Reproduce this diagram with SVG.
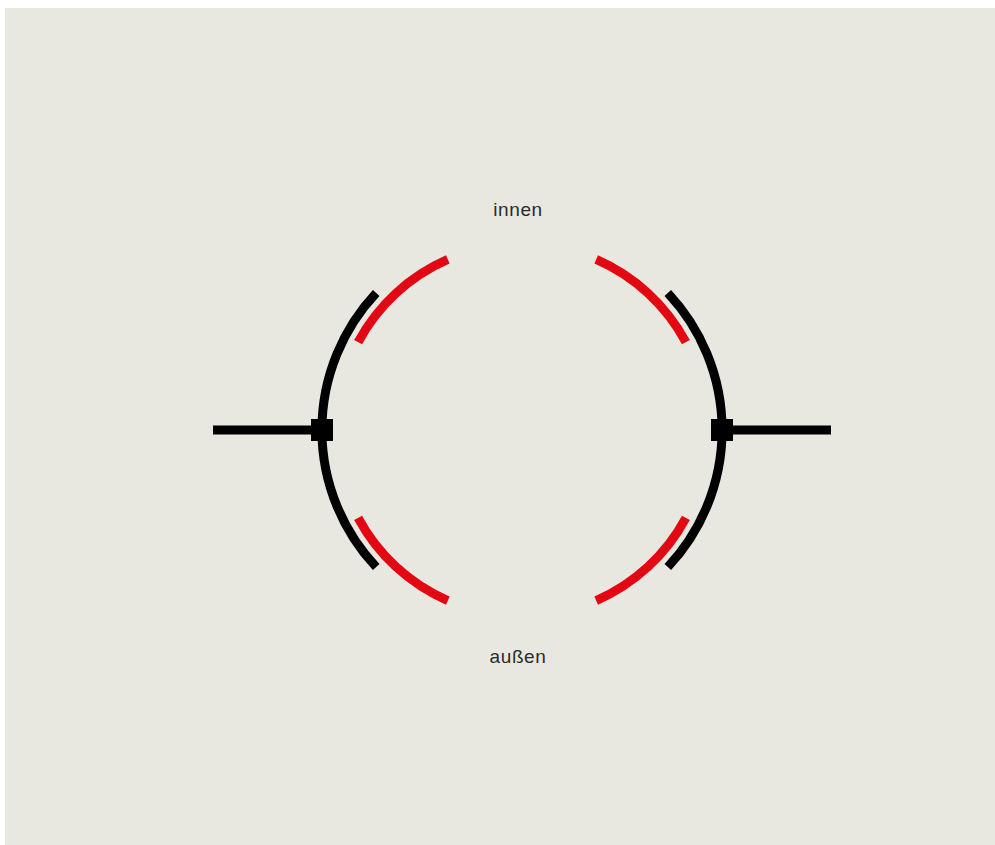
<svg xmlns="http://www.w3.org/2000/svg" width="995" height="845" viewBox="0 0 995 845">
<style>
.blk{fill:none;stroke:#000;stroke-width:9;stroke-linecap:butt}
.red{fill:none;stroke:#e30613;stroke-width:9;stroke-linecap:butt}
.lbl{font-family:"Liberation Sans",Arial,sans-serif;font-size:19px;letter-spacing:0.6px;fill:#2b2b2b;text-anchor:middle}
</style>
<rect x="5" y="8" width="990" height="837" fill="#e8e7e0"/>
<g id="connectors">
<line class="blk" x1="213" y1="430" x2="322" y2="430" stroke-width="10"/>
<line class="blk" x1="722" y1="430" x2="831" y2="430" stroke-width="10"/>
</g>
<g id="black-arc-left"><path class="blk" d="M376.2,293 A200,200 0 0 0 376.2,567"/><rect x="311" y="419" width="22" height="22" fill="#000"/></g>
<g id="black-arc-right"><path class="blk" d="M667.8,293 A200,200 0 0 1 667.8,567"/><rect x="711" y="419" width="22" height="22" fill="#000"/></g>
<g id="red-arcs">
<path class="red" d="M447.8,259.4 A186,186 0 0 0 358.1,342.1"/>
<path class="red" d="M358.1,517.9 A186,186 0 0 0 447.8,600.6"/>
<path class="red" d="M596.2,259.4 A186,186 0 0 1 685.9,342.1"/>
<path class="red" d="M685.9,517.9 A186,186 0 0 1 596.2,600.6"/>
</g>
<g id="label-innen"><text class="lbl" x="518" y="216">innen</text></g>
<g id="label-aussen"><text class="lbl" x="518" y="663">außen</text></g>
</svg>
